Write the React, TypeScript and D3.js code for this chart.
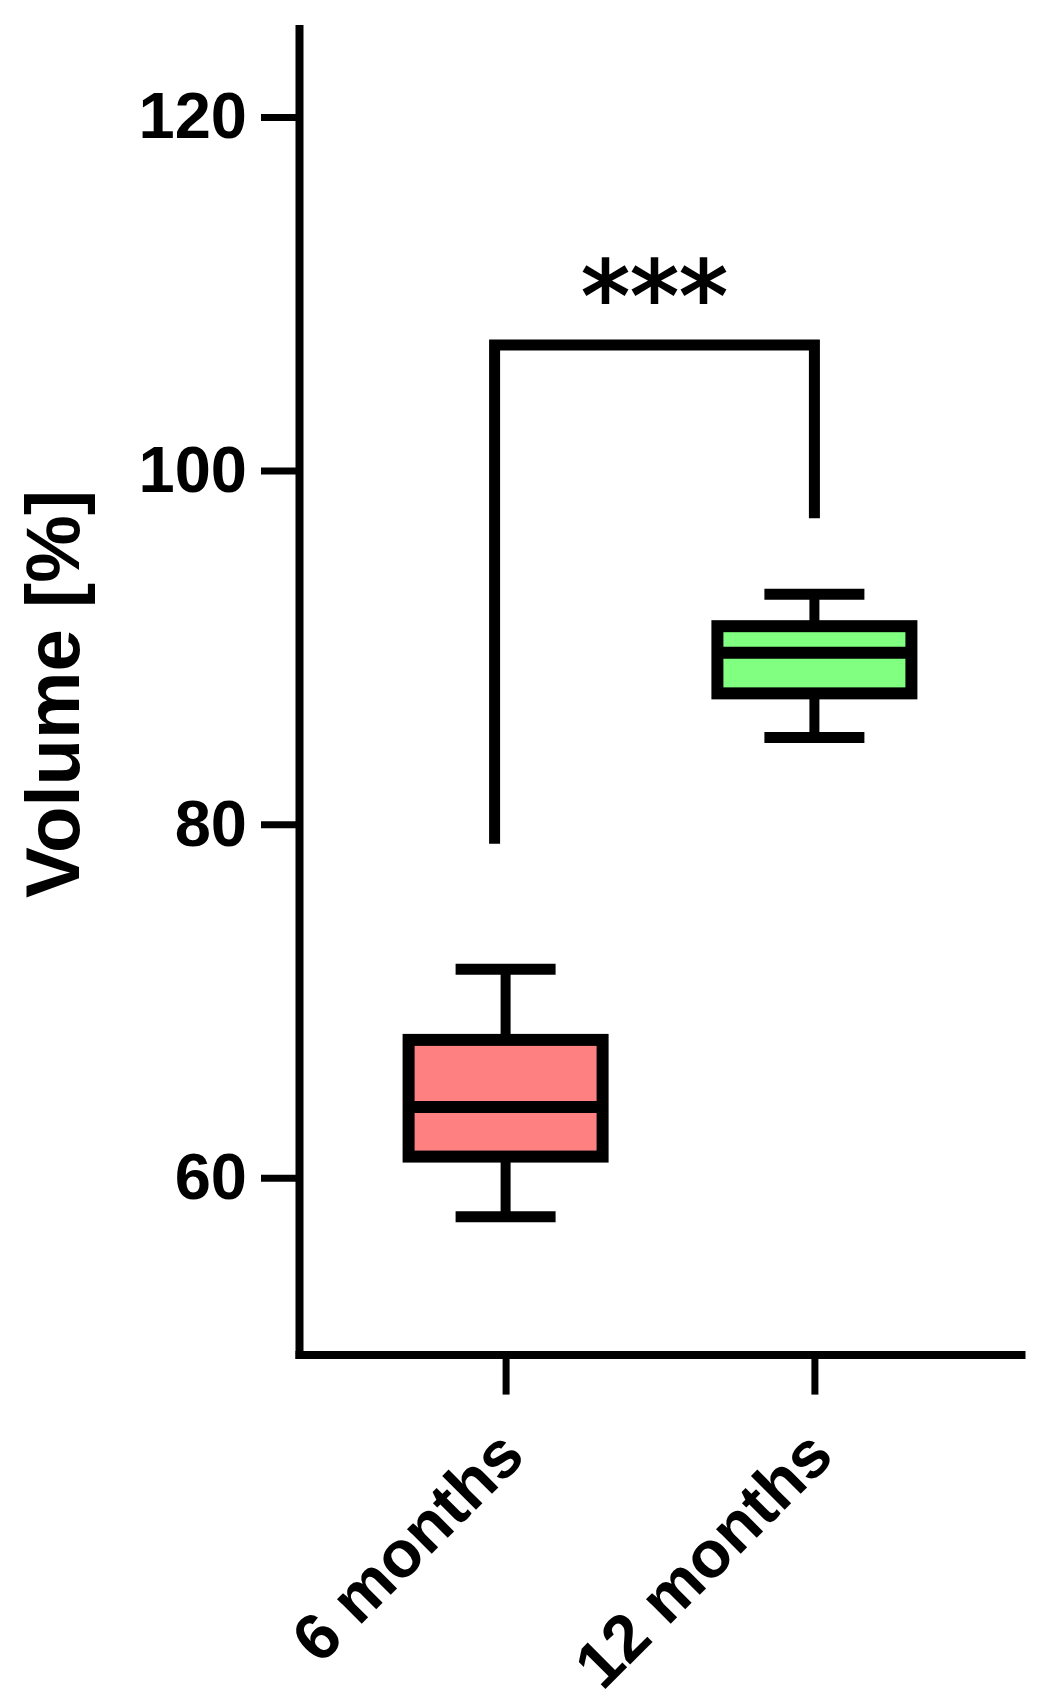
import React, { useEffect, useRef } from "react";
import * as d3 from "d3";

// data
const categories = ["6 months", "12 months"];
const lowerWhisker = [57.8, 84.9];
const q1 = [61.2, 87.4];
const medians = [64.0, 89.7];
const q3 = [67.8, 91.2];
const upperWhisker = [71.8, 93.0];
const fills = ["#ff8080", "#80ff80"];
const yTicks = [60, 80, 100, 120];
const bracketEnds = [78.9, 97.3];
const bracketTop = 107.1;
const significance = "***";

const WIDTH = 1037;
const HEIGHT = 1702;
const FONT = "'Liberation Sans', Arial, sans-serif";

export default function App() {
  const svgRef = useRef<SVGSVGElement>(null);

  useEffect(() => {
    const svg = d3.select(svgRef.current);
    svg.selectAll("*").remove();

    // scales
    const x = d3
      .scalePoint<string>()
      .domain(categories)
      .range([299, 1021])
      .padding(0.669);
    const y = d3.scaleLinear().domain([50, 125]).range([1354.6, 28.6]);

    const boxes = categories.map((c, i) => ({
      c,
      lo: lowerWhisker[i],
      q1: q1[i],
      med: medians[i],
      q3: q3[i],
      hi: upperWhisker[i],
      fill: fills[i],
    }));

    const boxWidth = 194;
    const capWidth = 100;

    // whiskers
    svg
      .selectAll(".whisker")
      .data(boxes)
      .join("line")
      .attr("class", "whisker")
      .attr("x1", (d) => x(d.c)!)
      .attr("x2", (d) => x(d.c)!)
      .attr("y1", (d) => y(d.lo))
      .attr("y2", (d) => y(d.hi))
      .attr("stroke", "#000")
      .attr("stroke-width", 10);

    const caps = boxes.flatMap((d) => [
      { c: d.c, v: d.lo },
      { c: d.c, v: d.hi },
    ]);
    svg
      .selectAll(".cap")
      .data(caps)
      .join("line")
      .attr("class", "cap")
      .attr("x1", (d) => x(d.c)! - capWidth / 2)
      .attr("x2", (d) => x(d.c)! + capWidth / 2)
      .attr("y1", (d) => y(d.v))
      .attr("y2", (d) => y(d.v))
      .attr("stroke", "#000")
      .attr("stroke-width", 11);

    // boxes
    svg
      .selectAll(".box")
      .data(boxes)
      .join("rect")
      .attr("class", "box")
      .attr("x", (d) => x(d.c)! - boxWidth / 2)
      .attr("width", boxWidth)
      .attr("y", (d) => y(d.q3))
      .attr("height", (d) => y(d.q1) - y(d.q3))
      .attr("fill", (d) => d.fill)
      .attr("stroke", "#000")
      .attr("stroke-width", 12);

    svg
      .selectAll(".median")
      .data(boxes)
      .join("line")
      .attr("class", "median")
      .attr("x1", (d) => x(d.c)! - boxWidth / 2)
      .attr("x2", (d) => x(d.c)! + boxWidth / 2)
      .attr("y1", (d) => y(d.med))
      .attr("y2", (d) => y(d.med))
      .attr("stroke", "#000")
      .attr("stroke-width", 12);

    // significance bracket
    const bx0 = x(categories[0])! - 11;
    const bx1 = x(categories[1])!;
    const bracketLine = d3.line();
    svg
      .append("path")
      .attr(
        "d",
        bracketLine([
          [bx0, y(bracketEnds[0])],
          [bx0, y(bracketTop)],
          [bx1, y(bracketTop)],
          [bx1, y(bracketEnds[1])],
        ])
      )
      .attr("fill", "none")
      .attr("stroke", "#000")
      .attr("stroke-width", 11)
      .attr("stroke-linejoin", "miter");

    svg
      .append("text")
      .attr("x", (bx0 + bx1) / 2)
      .attr("y", y(bracketTop) - 14)
      .attr("text-anchor", "middle")
      .attr("font-family", "'DejaVu Sans', sans-serif")
      .attr("font-size", 98)
      .attr("stroke", "#000")
      .attr("stroke-width", 2)
      .text(significance);

    // axes
    const yAxis = d3
      .axisLeft(y)
      .tickValues(yTicks)
      .tickSize(38)
      .tickSizeOuter(0)
      .tickPadding(14);
    const gy = svg
      .append("g")
      .attr("transform", "translate(299,0)")
      .call(yAxis)
      .attr("font-size", 65)
      .attr("font-family", FONT)
      .attr("font-weight", "bold");
    gy.select(".domain")
      .attr("stroke-width", 8)
      .attr("stroke-linecap", "square");
    gy.selectAll(".tick line").attr("stroke-width", 7);
    gy.selectAll(".tick text").attr("fill", "#000");

    const xAxis = d3.axisBottom(x).tickSize(40).tickSizeOuter(0);
    const gx = svg
      .append("g")
      .attr("transform", `translate(0,${y(50)})`)
      .call(xAxis)
      .attr("font-size", 66)
      .attr("font-family", FONT)
      .attr("font-weight", "bold");
    gx.select(".domain")
      .attr("stroke-width", 8)
      .attr("stroke-linecap", "square");
    gx.selectAll(".tick line").attr("stroke-width", 7);
    gx.selectAll(".tick text")
      .attr("fill", "#000")
      .attr("x", 0)
      .attr("y", 0)
      .attr("dy", 0)
      .attr("text-anchor", "end")
      .attr("transform", "translate(21,104) rotate(-45)");

    // y title
    svg
      .append("text")
      .attr("transform", "translate(79,694) rotate(-90)")
      .attr("text-anchor", "middle")
      .attr("font-family", FONT)
      .attr("font-weight", "bold")
      .attr("font-size", 76)
      .text("Volume [%]");
  }, []);

  return (
    <div style={{ position: "absolute", left: 0, top: 0 }}>
      <svg
        ref={svgRef}
        width={WIDTH}
        height={HEIGHT}
        style={{ display: "block", background: "#fff" }}
      />
    </div>
  );
}
